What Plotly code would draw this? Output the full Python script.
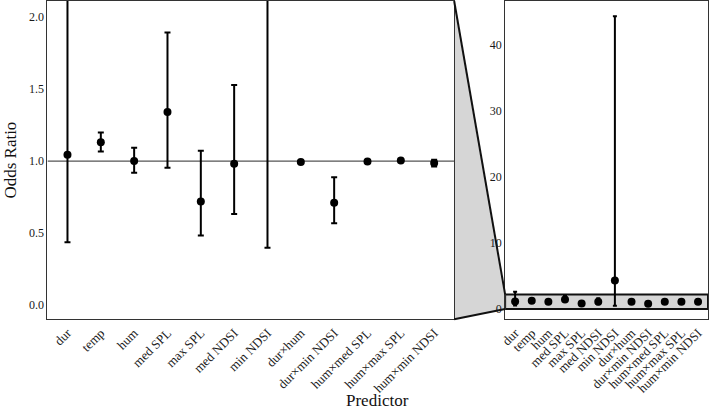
import plotly.graph_objects as go

predictors = ["dur", "temp", "hum", "med SPL", "max SPL", "med NDSI", "min NDSI",
              "dur×hum", "dur×min NDSI", "hum×med SPL", "hum×max SPL", "hum×min NDSI"]
odds = [1.044, 1.131, 1.000, 1.341, 0.719, 0.981, 4.24, 0.993, 0.710, 0.997, 1.004, 0.986]
ci_low = [0.437, 1.066, 0.919, 0.954, 0.484, 0.633, 0.398, 0.988, 0.569, 0.993, 1.000, 0.963]
ci_high = [2.50, 1.198, 1.092, 1.891, 1.071, 1.527, 44.4, 0.998, 0.887, 1.001, 1.008, 1.009]

left_y_ticks = [0.0, 0.5, 1.0, 1.5, 2.0]
right_y_ticks = [0, 10, 20, 30, 40]

L_RANGE = [-0.097, 2.11]
R_RANGE = [-1.66, 46.7]
X_RANGE = [-0.6, 11.6]
L_DOM = [0.059, 0.6375]
R_DOM = [0.710, 0.9986]
Y_DOM = [0.22, 1.0]

FONT = "Liberation Serif"
TXT = "#1a1a1a"
xs = list(range(len(predictors)))
plus = [h - o for h, o in zip(ci_high, odds)]
minus = [o - l for o, l in zip(odds, ci_low)]

fig = go.Figure()
fig.add_trace(go.Scatter(
    x=xs, y=odds, mode="markers", xaxis="x", yaxis="y",
    marker=dict(color="black", size=8),
    error_y=dict(type="data", symmetric=False, array=plus, arrayminus=minus,
                 color="black", thickness=2, width=3),
    showlegend=False))
fig.add_trace(go.Scatter(
    x=xs, y=odds, mode="markers", xaxis="x2", yaxis="y2",
    marker=dict(color="black", size=8),
    error_y=dict(type="data", symmetric=False, array=plus, arrayminus=minus,
                 color="black", thickness=2, width=2),
    showlegend=False))

line_common = dict(showgrid=False, zeroline=False, showline=True, mirror=True,
                   linecolor="#333333", linewidth=1.2, ticks="")
xfont = dict(family=FONT, size=13, color=TXT)
yfont = dict(family=FONT, size=12, color=TXT)

fig.update_layout(
    width=709, height=409, margin=dict(l=0, r=0, t=0, b=0),
    paper_bgcolor="white", plot_bgcolor="white",
    xaxis=dict(domain=L_DOM, range=X_RANGE, tickmode="array", tickvals=xs,
               ticktext=predictors, tickangle=-45, anchor="y", tickfont=xfont, **line_common),
    yaxis=dict(domain=Y_DOM, range=L_RANGE, tickmode="array", tickvals=left_y_ticks,
               ticktext=[f"{v:.1f}" for v in left_y_ticks], anchor="x", tickfont=yfont,
               title=dict(text="Odds Ratio", font=dict(family=FONT, size=17, color="#111"),
                          standoff=8),
               **line_common),
    xaxis2=dict(domain=R_DOM, range=X_RANGE, tickmode="array", tickvals=xs,
                ticktext=predictors, tickangle=-45, anchor="y2", tickfont=xfont, **line_common),
    yaxis2=dict(domain=Y_DOM, range=R_RANGE, tickmode="array", tickvals=right_y_ticks,
                ticktext=[str(v) for v in right_y_ticks], anchor="x2", tickfont=yfont,
                **line_common),
)

# reference lines at odds ratio 1
for xr, yr in (("x", "y"), ("x2", "y2")):
    fig.add_shape(type="line", xref=xr, yref=yr, x0=X_RANGE[0], x1=X_RANGE[1], y0=1, y1=1,
                  line=dict(color="#555555", width=1.2), layer="below")

# zoom box in right panel showing left panel's range
fig.add_shape(type="rect", xref="x2", yref="y2", x0=X_RANGE[0], x1=X_RANGE[1],
              y0=L_RANGE[0], y1=L_RANGE[1], fillcolor="#d6d6d6",
              line=dict(color="#111111", width=2), layer="below")

# connector polygon (paper coords computed from axis ranges/domains)
def to_paper(val, rng):
    return Y_DOM[0] + (val - rng[0]) / (rng[1] - rng[0]) * (Y_DOM[1] - Y_DOM[0])

xa, xb = L_DOM[1], R_DOM[0]
top_r = to_paper(L_RANGE[1], R_RANGE)
bot_r = to_paper(L_RANGE[0], R_RANGE)
fig.add_shape(type="path", xref="paper", yref="paper",
              path=f"M {xa},{Y_DOM[1]} L {xb},{top_r} L {xb},{bot_r} L {xa},{Y_DOM[0]} Z",
              fillcolor="#d6d6d6", line=dict(width=0), layer="below")
fig.add_shape(type="line", xref="paper", yref="paper", x0=xa, y0=Y_DOM[1], x1=xb, y1=top_r,
              line=dict(color="#111111", width=2))
fig.add_shape(type="line", xref="paper", yref="paper", x0=xa, y0=Y_DOM[0], x1=xb, y1=bot_r,
              line=dict(color="#111111", width=2))

fig.add_annotation(text="Predictor", xref="paper", yref="paper",
                   x=(L_DOM[0] + R_DOM[1]) / 2, y=0.022, yanchor="middle", showarrow=False,
                   font=dict(family=FONT, size=17, color="#111"))

fig.write_html("out.html")
